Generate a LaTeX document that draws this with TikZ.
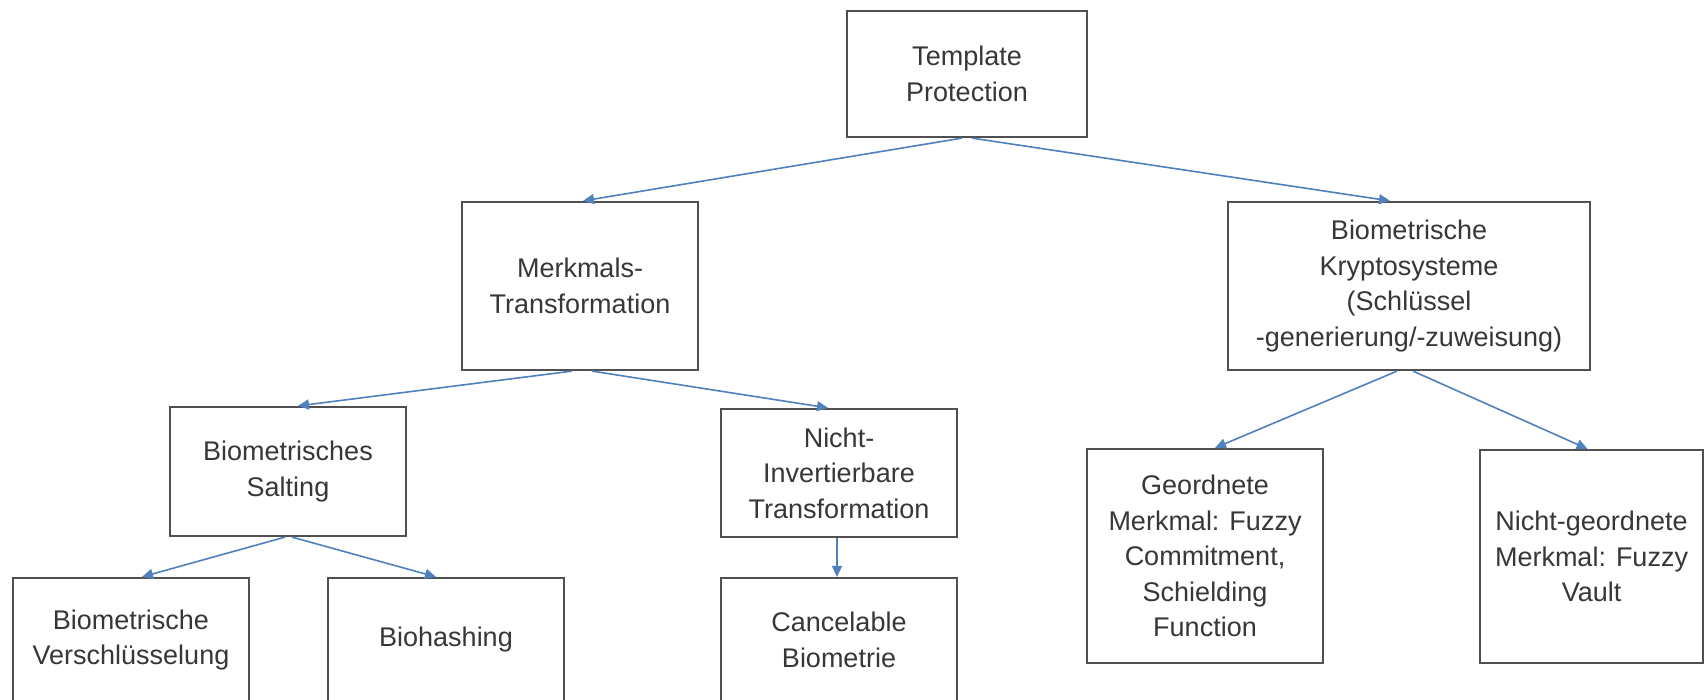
\documentclass[tikz,border=0pt]{standalone}
\usepackage{fontspec}
\setmainfont{Liberation Sans}
\usetikzlibrary{arrows.meta,calc}
\definecolor{boxline}{RGB}{80,80,80}
\definecolor{txt}{RGB}{55,55,55}
\definecolor{arr}{RGB}{79,129,189}
\begin{document}
\begin{tikzpicture}[x=1pt,y=-1pt,
  box/.style={draw=boxline, line width=2.2pt, fill=white, rectangle, inner sep=0pt,
    align=center, text=txt, font=\fontsize{27}{35.5}\selectfont, minimum width=236pt},
  link/.style={draw=arr, line width=1.6pt, -{Triangle[length=11pt,width=10pt]}}]
\fill[white] (0,0) rectangle (1707,700);
\useasboundingbox (0,0) rectangle (1707,700);
\node[box, minimum width=240pt, minimum height=126pt] (top) at (967,74) {Template\\Protection};
\node[box, minimum height=168pt] (merk) at (580,286) {Merkmals-\\Transformation};
\node[box, minimum width=362pt, minimum height=168pt] (kry) at (1409,286) {Biometrische\\Kryptosysteme\\(Schlüssel\\-generierung/-zuweisung)};
\node[box, minimum height=129pt] (salt) at (288,471.5) {Biometrisches\\Salting};
\node[box, minimum height=128pt] (nicht) at (839,473) {Nicht-\\Invertierbare\\Transformation};
\node[box, minimum height=124pt] (vers) at (131,640) {Biometrische\\Verschlüsselung};
\node[box, minimum height=124pt] (bioh) at (446,640) {Biohashing};
\node[box, minimum height=124pt] (canc) at (839,640) {Cancelable\\Biometrie};
\node[box, minimum height=214pt] (geo) at (1205,556) {Geordnete\\Merkmal: Fuzzy\\Commitment,\\Schielding\\Function};
\node[box, minimum width=223pt, minimum height=213pt] (ng) at (1591.5,556.5) {Nicht-geordnete\\Merkmal: Fuzzy\\Vault};
\draw[link] ($(top.south)+(-5,0)$) -- ($(merk.north)+(3,0)$);
\draw[link] ($(top.south)+(5,0)$) -- ($(kry.north)+(-19,0)$);
\draw[link] ($(merk.south)+(-8,0)$) -- ($(salt.north)+(10,0)$);
\draw[link] ($(merk.south)+(12,0)$) -- ($(nicht.north)+(-11,0)$);
\draw[link] ($(salt.south)+(-3,0)$) -- ($(vers.north)+(11,0)$);
\draw[link] ($(salt.south)+(4,0)$) -- ($(bioh.north)+(-10,0)$);
\draw[link] ($(nicht.south)+(-2,0)$) -- ($(canc.north)+(-2,0)$);
\draw[link] ($(kry.south)+(-12,0)$) -- ($(geo.north)+(10,0)$);
\draw[link] ($(kry.south)+(4,0)$) -- ($(ng.north)+(-4,0)$);
\end{tikzpicture}
\end{document}
